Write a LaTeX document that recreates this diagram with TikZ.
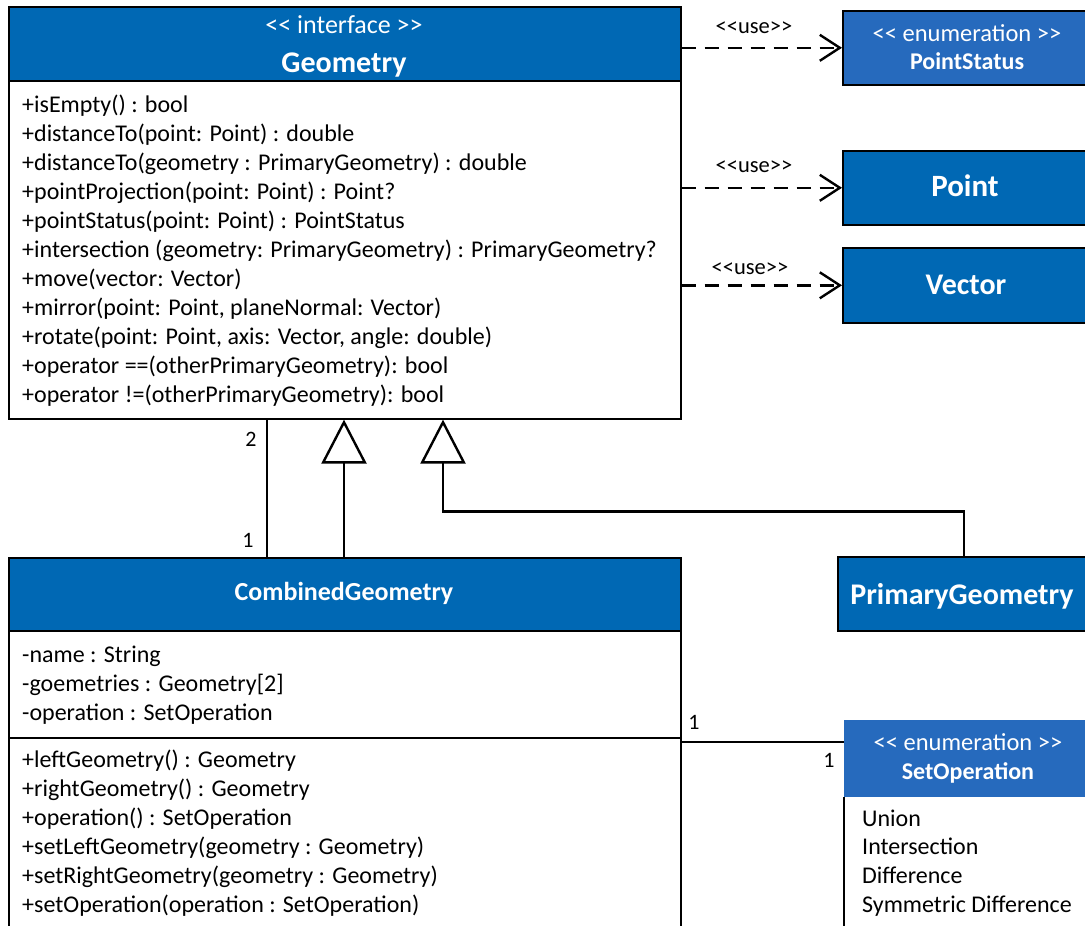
\documentclass[tikz,border=0pt]{standalone}
\usepackage{fontspec}
\setmainfont{Carlito}
\usetikzlibrary{arrows.meta}
\definecolor{umlblue}{RGB}{0,104,180}
\definecolor{enumblue}{RGB}{38,106,189}
% guillemet-free stereotype brackets
\newcommand{\stl}{<{}<}
\newcommand{\str}{>{}>}
\begin{document}
\begin{tikzpicture}[x=1pt,y=-1pt,
  font=\fontsize{24}{29}\selectfont,
  box/.style={rectangle, inner sep=0, anchor=north west, draw=black, line width=1.6pt},
  hdr/.style={box, fill=umlblue, text=white},
  ehdr/.style={box, fill=enumblue, text=white},
  txt/.style={anchor=base west, inner sep=0},
  htxt/.style={anchor=base, inner sep=0, text=white},
  mult/.style={anchor=base, inner sep=0, font=\fontsize{22}{26}\selectfont},
  uselbl/.style={anchor=base, inner sep=0, font=\fontsize{22.5}{27}\selectfont},
  usearrow/.style={line width=2.4pt, dash pattern=on 14pt off 9pt,
    -{Straight Barb[length=20pt, width=26pt, line width=2.4pt]}},
  gen/.style={line width=2.4pt, -{Triangle[open, length=44pt, width=45pt, line width=2.4pt, fill=white]}},
  assoc/.style={line width=2.4pt}
]
\useasboundingbox (0,0) rectangle (1085,926);
\clip (0,0) rectangle (1085,926);
\fill[white] (0,0) rectangle (1085,926);

% ---------- interface Geometry ----------
\node[hdr, minimum width=672pt, minimum height=74pt] (geoH) at (8,6) {};
\node[box, minimum width=672pt, minimum height=338pt] (geo) at (8,80) {};
\node[htxt, font=\fontsize{26}{31}\selectfont] (geoS) at (344,34) {\stl{} interface \str};
\node[htxt, font=\fontsize{30}{36}\selectfont\bfseries] (geoN) at (344,72) {Geometry};
\node[txt] (g1) at (22,112) {+isEmpty() : bool};
\node[txt] (g2) at (22,141) {+distanceTo(point: Point) : double};
\node[txt] (g3) at (22,170) {+distanceTo(geometry : PrimaryGeometry) : double};
\node[txt] (g4) at (22,199) {+pointProjection(point: Point) : Point?};
\node[txt] (g5) at (22,228) {+pointStatus(point: Point) : PointStatus};
\node[txt] (g6) at (22,257) {+intersection (geometry: PrimaryGeometry) : PrimaryGeometry?};
\node[txt] (g7) at (22,286) {+move(vector: Vector)};
\node[txt] (g8) at (22,315) {+mirror(point: Point, planeNormal: Vector)};
\node[txt] (g9) at (22,344) {+rotate(point: Point, axis: Vector, angle: double)};
\node[txt] (g10) at (22,373) {+operator ==(otherPrimaryGeometry): bool};
\node[txt] (g11) at (22,402) {+operator !=(otherPrimaryGeometry): bool};

% ---------- used types ----------
\node[ehdr, minimum width=250pt, minimum height=74pt] (ps) at (842,10) {};
\node[htxt, font=\fontsize{24.5}{29}\selectfont] (psS) at (967,41) {\stl{} enumeration \str};
\node[htxt, font=\fontsize{24}{29}\selectfont\bfseries] (psN) at (967,69) {PointStatus};

\node[hdr, minimum width=250pt, minimum height=74pt] (pt) at (842,150) {};
\node[htxt, font=\fontsize{31}{37}\selectfont\bfseries] (ptN) at (965,196) {Point};

\node[hdr, minimum width=250pt, minimum height=75pt] (vec) at (842,247) {};
\node[htxt, font=\fontsize{30}{36}\selectfont\bfseries] (vecN) at (966,294) {Vector};

% dependencies
\draw[usearrow] (geoH.east |- ps.west) -- (ps.west);
\draw[usearrow] (geo.east |- pt.west) -- (pt.west);
\draw[usearrow] (geo.east |- vec.west) -- (vec.west);
\node[uselbl] (u1) at (754,33) {\stl{}use\str};
\node[uselbl] (u2) at (754,172) {\stl{}use\str};
\node[uselbl] (u3) at (750,274) {\stl{}use\str};

% ---------- PrimaryGeometry ----------
\node[hdr, minimum width=252pt, minimum height=74pt] (prim) at (837,556) {};
\node[htxt, font=\fontsize{30}{36}\selectfont\bfseries] (primN) at (962,604) {PrimaryGeometry};

% ---------- CombinedGeometry ----------
\node[hdr, minimum width=672pt, minimum height=73pt] (combH) at (8,557) {};
\node[htxt, font=\fontsize{26}{31}\selectfont\bfseries] (combN) at (344,600) {CombinedGeometry};
\node[box, minimum width=672pt, minimum height=107pt] (combA) at (8,630) {};
\node[box, minimum width=672pt, minimum height=200pt] (combM) at (8,737) {};
\node[txt] (a1) at (22,662) {-name : String};
\node[txt] (a2) at (22,691) {-goemetries : Geometry[2]};
\node[txt] (a3) at (22,720) {-operation : SetOperation};
\node[txt] (m1) at (22,767) {+leftGeometry() : Geometry};
\node[txt] (m2) at (22,796) {+rightGeometry() : Geometry};
\node[txt] (m3) at (22,825) {+operation() : SetOperation};
\node[txt] (m4) at (22,854) {+setLeftGeometry(geometry : Geometry)};
\node[txt] (m5) at (22,883) {+setRightGeometry(geometry : Geometry)};
\node[txt] (m6) at (22,912) {+setOperation(operation : SetOperation)};

% ---------- enumeration SetOperation ----------
\node[rectangle, inner sep=0, anchor=north west, fill=enumblue,
      minimum width=250pt, minimum height=77pt] (setH) at (844,720) {};
\node[htxt, font=\fontsize{24.5}{29}\selectfont] (setS) at (968,750) {\stl{} enumeration \str};
\node[htxt, font=\fontsize{24}{29}\selectfont\bfseries] (setN) at (968,779) {SetOperation};
\node[rectangle, inner sep=0, anchor=north west,
      minimum width=250pt, minimum height=140pt] (setB) at (844,797) {};
\draw[line width=1.6pt] (setB.north west) -- (setB.south west);
\node[txt] (e1) at (862,826) {Union};
\node[txt] (e2) at (862,854) {Intersection};
\node[txt] (e3) at (862,883) {Difference};
\node[txt] (e4) at (862,912) {Symmetric Difference};

% ---------- relations ----------
% composition of two geometries
\draw[assoc] ([xshift=259pt]geo.south west) -- ([xshift=259pt]combH.north west);
\node[mult] (mu2) at (251,446) {2};
\node[mult] (mu1) at (248,547) {1};
% realisations of the interface
\draw[gen] ([xshift=336pt]combH.north west) -- ([xshift=336pt]geo.south west);
\draw[gen] (prim.north) |- ([xshift=435pt, yshift=-92pt]geo.south west)
  -- ([xshift=435pt]geo.south west);
% association with the set operation
\draw[assoc] ([yshift=-5pt]combM.north east) -- ([yshift=-22pt]setH.north west);
\node[mult] (mu3) at (694,729) {1};
\node[mult] (mu4) at (829,767) {1};
\end{tikzpicture}
\end{document}
